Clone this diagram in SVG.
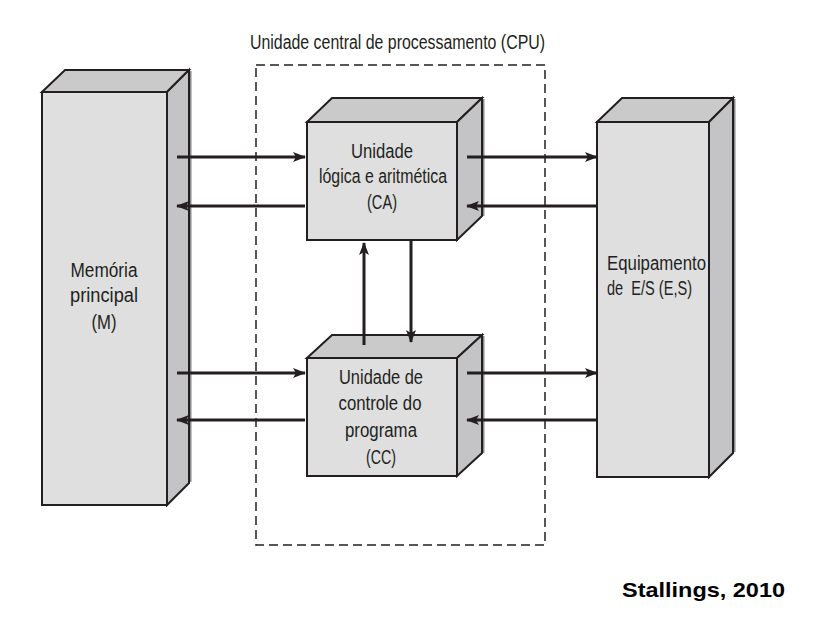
<svg xmlns="http://www.w3.org/2000/svg" width="814" height="618" viewBox="0 0 814 618">
<style>
.front{fill:#dfdfe0;stroke:#231f20;stroke-width:2}
.top{fill:#cacaca;stroke:#231f20;stroke-width:2}
.side{fill:#c4c4c6;stroke:#231f20;stroke-width:2}
.edge{stroke:#8a8a8a;stroke-width:3;fill:none}
.t{font-family:"Liberation Sans",Arial,sans-serif;font-size:20px;fill:#231f20}
.c{text-anchor:middle}
.ar{stroke:#231f20;stroke-width:3;fill:none;marker-end:url(#ah)}
</style>
<defs>
<marker id="ah" markerWidth="14" markerHeight="10" refX="12" refY="5" orient="auto" markerUnits="userSpaceOnUse">
<path d="M0,0 L13,5 L0,10 L3,5 Z" fill="#231f20"/>
</marker>
</defs>
<rect width="814" height="618" fill="#ffffff"/>

<text class="t" x="250" y="49" textLength="295" lengthAdjust="spacingAndGlyphs">Unidade central de processamento (CPU)</text>
<rect x="256" y="65" width="289" height="480" fill="none" stroke="#231f20" stroke-width="1.5" stroke-dasharray="9,5"/>

<g id="mem">
<polygon class="top" points="42,92 65,70 189,70 167,92"/>
<line class="edge" x1="190" y1="71" x2="190" y2="482"/>
<polygon class="side" points="167,92 189,70 189,483 167,505"/>
<rect class="front" x="42" y="92" width="125" height="413"/>
<text class="t c" x="104" y="277" textLength="67" lengthAdjust="spacingAndGlyphs">Memória</text>
<text class="t c" x="104" y="302" textLength="68" lengthAdjust="spacingAndGlyphs">principal</text>
<text class="t c" x="104" y="329" textLength="25" lengthAdjust="spacingAndGlyphs">(M)</text>
</g>

<g id="alu">
<polygon class="top" points="307,122 332,98 482,98 457,122"/>
<line class="edge" x1="483" y1="99" x2="483" y2="216"/>
<polygon class="side" points="457,122 482,98 482,216 457,240"/>
<rect class="front" x="307" y="122" width="150" height="118"/>
<text class="t c" x="382" y="158" textLength="62" lengthAdjust="spacingAndGlyphs">Unidade</text>
<text class="t c" x="383" y="183" textLength="128" lengthAdjust="spacingAndGlyphs">lógica e aritmética</text>
<text class="t c" x="382" y="209" textLength="30" lengthAdjust="spacingAndGlyphs">(CA)</text>
</g>

<g id="cc">
<polygon class="top" points="307,358 332,335 482,335 457,358"/>
<line class="edge" x1="483" y1="336" x2="483" y2="453"/>
<polygon class="side" points="457,358 482,335 482,453 457,476"/>
<rect class="front" x="307" y="358" width="150" height="118"/>
<text class="t c" x="381" y="384" textLength="84" lengthAdjust="spacingAndGlyphs">Unidade de</text>
<text class="t c" x="380" y="410" textLength="83" lengthAdjust="spacingAndGlyphs">controle do</text>
<text class="t c" x="381" y="437" textLength="72" lengthAdjust="spacingAndGlyphs">programa</text>
<text class="t c" x="381" y="464" textLength="30" lengthAdjust="spacingAndGlyphs">(CC)</text>
</g>

<g id="io">
<polygon class="top" points="597,122 622,98 733,98 709,122"/>
<line class="edge" x1="734" y1="99" x2="734" y2="452"/>
<polygon class="side" points="709,122 733,98 733,453 709,477"/>
<rect class="front" x="597" y="122" width="112" height="355"/>
<text class="t" x="607" y="270" textLength="99" lengthAdjust="spacingAndGlyphs">Equipamento</text>
<text class="t" x="607" y="295" textLength="85" lengthAdjust="spacingAndGlyphs">de&#160; E/S (E,S)</text>
</g>

<g id="connectors">
<line class="ar" x1="177" y1="157" x2="305" y2="157"/>
<line class="ar" x1="305" y1="206" x2="177" y2="206"/>
<line class="ar" x1="467" y1="157" x2="597" y2="157"/>
<line class="ar" x1="597" y1="206" x2="467" y2="206"/>
<line class="ar" x1="177" y1="373" x2="305" y2="373"/>
<line class="ar" x1="305" y1="420" x2="177" y2="420"/>
<line class="ar" x1="467" y1="373" x2="597" y2="373"/>
<line class="ar" x1="597" y1="420" x2="467" y2="420"/>
<line class="ar" x1="364" y1="345" x2="364" y2="243"/>
<line class="ar" x1="411" y1="240" x2="411" y2="342"/>
</g>

<text x="622" y="597" font-family="'Liberation Sans',Arial,sans-serif" font-weight="bold" font-size="21" fill="#000" textLength="163" lengthAdjust="spacingAndGlyphs">Stallings, 2010</text>
</svg>
